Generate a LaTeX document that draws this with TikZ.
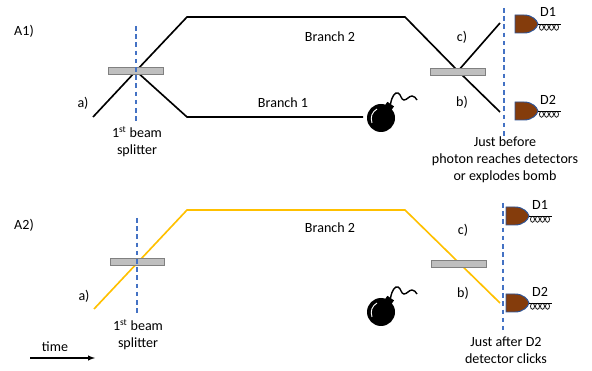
\documentclass[tikz,border=0pt]{standalone}
\usepackage{fontspec}
\setmainfont{Carlito}
\usetikzlibrary{arrows}

\definecolor{splitblue}{HTML}{4472C4}
\definecolor{photon}{HTML}{FFC000}
\definecolor{detbrown}{HTML}{843C0C}
\definecolor{detedge}{HTML}{2F5597}

\tikzset{
    txt/.style={inner sep=0pt, font=\fontsize{12}{14.5}\selectfont, align=center},
    ray/.style={line width=1.4pt},
    yray/.style={photon, line width=1.4pt},
    splitter/.style={fill=black!25, draw=black!50, line width=0.8pt},
    guide/.style={splitblue, line width=1.1pt, dash pattern=on 4pt off 3pt},
    bomb/.pic={
        \fill (0,0) circle[radius=14];
        \fill (3.0,-11.3) -- (9.6,-6.7) -- (13.0,-11.6) -- (6.4,-16.2) -- cycle;
        \draw[line width=1.2pt] (9.5,-14) .. controls (11,-22) and (14,-26) .. (17,-25)
            .. controls (20,-24) and (20,-18) .. (23,-18)
            .. controls (26,-18) and (28,-22) .. (31,-22)
            .. controls (33,-22) and (35,-20) .. (36,-18);
        \draw[white, line width=0.8pt] (-9,5) .. controls (-11,-1) and (-9,-6) .. (-4,-9);
    },
    detector/.pic={
        \filldraw[fill=detbrown, draw=detedge, line width=0.8pt]
            (0,-9) -- (9,-9) .. controls (17,-9) and (22,-4) .. (23,0)
            .. controls (22,4) and (17,9) .. (9,9) -- (0,9) -- cycle;
        \draw[line width=0.8pt] (23,0) -- (46,0);
        \foreach \k in {0,...,3}
            \draw[line width=0.6pt] (26.5+5*\k,3.3) ellipse[x radius=2, y radius=3];
    }
}

\begin{document}
\begin{tikzpicture}[x=0.3mm, y=-0.3mm]
    \useasboundingbox (0,0) rectangle (592,371);

    % A1: photon split into both branches
    \draw[ray] (93,117) -- (136,71) -- (187,17) -- (405,17) -- (458,71);
    \draw[ray] (136,71) -- (187,117) -- (363,117);
    \draw[ray] (458,71) -- (500,23);
    \draw[ray] (458,71) -- (500,112);
    \draw[splitter] (108,67) rectangle (163,74);
    \draw[splitter] (430,68) rectangle (485,75);
    \draw[guide] (136,26) -- (136,122);
    \draw[guide] (504,8) -- (504,137);
    \pic (bombA) at (381,118) {bomb};
    \pic (detAa) at (515,24) {detector};
    \pic (detAb) at (515,111) {detector};

    \node[txt] (lblA) at (24,31) {A1)};
    \node[txt] (inA) at (83,103) {a)};
    \node[txt] (upA) at (462,37) {c)};
    \node[txt] (downA) at (462,102) {b)};
    \node[txt] (brtwoA) at (330,37) {Branch 2};
    \node[txt] (broneA) at (283,103) {Branch 1};
    \node[txt] (doneA) at (548,12) {D1};
    \node[txt] (dtwoA) at (548,100) {D2};
    \node[txt] (bsA) at (137,142) {1\textsuperscript{st} beam\\splitter};
    \node[txt] (whenA) at (505,160) {Just before\\photon reaches detectors\\or explodes bomb};

    % A2: photon took branch 2 and D2 fired
    \draw[yray] (94,309) -- (187,210) -- (405,210) -- (500,303);
    \draw[splitter] (110,258) rectangle (164,265);
    \draw[splitter] (431,260) rectangle (486,267);
    \draw[guide] (137,218) -- (137,313);
    \draw[guide] (503,203) -- (503,330);
    \pic (bombB) at (381,312) {bomb};
    \pic (detBa) at (506,216) {detector};
    \pic (detBb) at (506,303) {detector};

    \node[txt] (lblB) at (24,225) {A2)};
    \node[txt] (inB) at (84,296) {a)};
    \node[txt] (upB) at (463,230) {c)};
    \node[txt] (downB) at (463,293) {b)};
    \node[txt] (brtwoB) at (330,228) {Branch 2};
    \node[txt] (doneB) at (540,205) {D1};
    \node[txt] (dtwoB) at (540,292) {D2};
    \node[txt] (bsB) at (138,335) {1\textsuperscript{st} beam\\splitter};
    \node[txt] (whenB) at (506,350) {Just after D2\\detector clicks};

    \node[txt] (time) at (55,347) {time};
    \coordinate (tstart) at (30,358);
    \coordinate (tend) at (95,358);
    \draw[-latex, line width=1pt] (tstart) -- (tend);

\end{tikzpicture}
\end{document}
